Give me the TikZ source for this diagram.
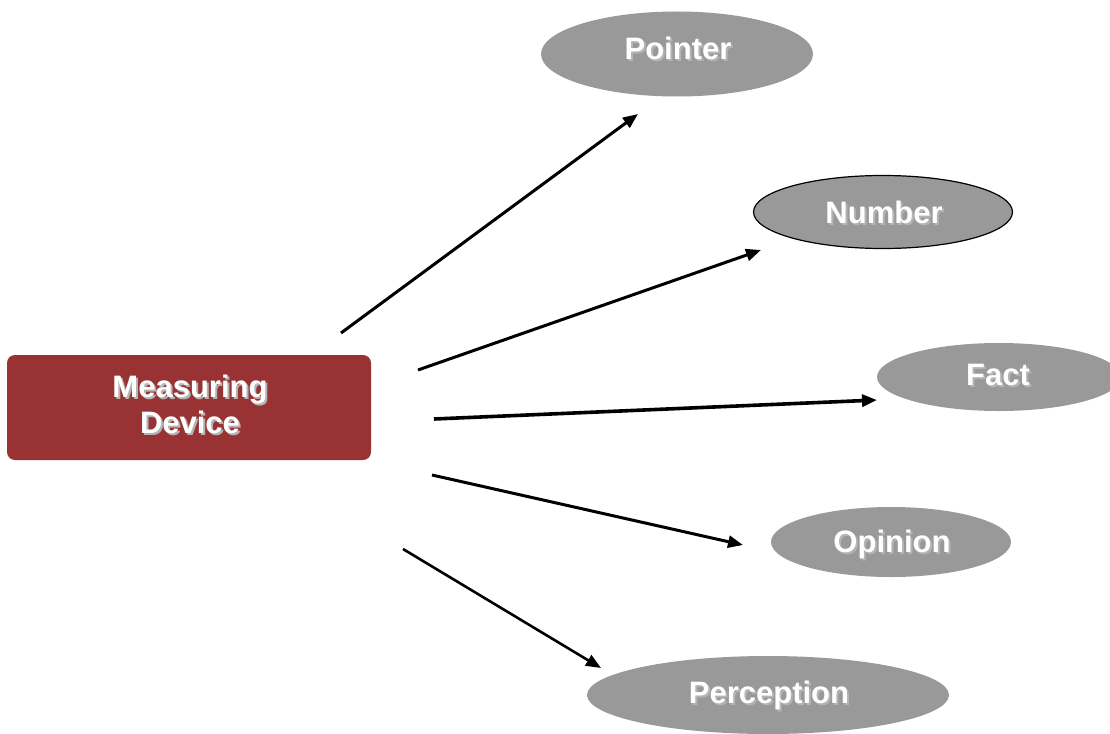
\documentclass[tikz,border=0pt]{standalone}
\usepackage{fontspec}
\setmainfont{Liberation Sans}
\usetikzlibrary{arrows.meta,shapes.geometric}
\definecolor{devicered}{HTML}{993333}
\definecolor{bubblegray}{HTML}{999999}
\definecolor{textshade}{HTML}{B4B4B4}
% white lettering with a small grey drop shadow
\newcommand\dropshadow[1]{\leavevmode\rlap{\hspace{2pt}\raisebox{-2pt}{\color{textshade}#1}}#1}

\begin{document}
\begin{tikzpicture}[x=1pt,y=-1pt,
  bubble/.style={ellipse, fill=bubblegray, inner sep=0pt},
  device/.style={rectangle, rounded corners=8pt, fill=devicered, inner sep=0pt,
                 minimum width=364pt, minimum height=105pt},
  caption/.style={anchor=base, inner sep=0pt, text=white,
                  font=\bfseries\fontsize{31}{36}\selectfont},
  link/.style={-{Triangle[length=15pt,width=12pt]}, line width=3pt}]
\useasboundingbox (0,0) rectangle (1110,733);

% central box
\node[device] (dev) at (189,407.5) {};
\node[caption] (devtop) at (190,397) {\dropshadow{Measuring}};
\node[caption] (devbot) at (190,433) {\dropshadow{Device}};

% outcome bubbles
\node[bubble, minimum width=272pt, minimum height=85pt] (pointer) at (677,54) {};
\node[caption] (pointer-t) at (678,60) {\dropshadow{Pointer}};

\node[bubble, draw=black, line width=1.2pt, minimum width=259pt, minimum height=73pt] (number) at (883,212) {};
\node[caption] (number-t) at (884,223) {\dropshadow{Number}};

\node[bubble, minimum width=244pt, minimum height=68pt] (fact) at (999,377) {};
\node[caption] (fact-t) at (998,385) {\dropshadow{Fact}};

\node[bubble, minimum width=240pt, minimum height=70pt] (opinion) at (891,542) {};
\node[caption] (opinion-t) at (892,552) {\dropshadow{Opinion}};

\node[bubble, minimum width=362pt, minimum height=78pt] (perception) at (768,695) {};
\node[caption] (perception-t) at (769,703) {\dropshadow{Perception}};

% free arrow ends
\coordinate (s1) at (341,333);  \coordinate (e1) at (638,114);
\coordinate (s2) at (418,370);  \coordinate (e2) at (761,250);
\coordinate (s3) at (434,419);  \coordinate (e3) at (877,400);
\coordinate (s4) at (432,475);  \coordinate (e4) at (743,545);
\coordinate (s5) at (403,549);  \coordinate (e5) at (601,668);

\draw[link] (s1) -- (e1);
\draw[link] (s2) -- (e2);
\draw[link, line width=3.6pt] (s3) -- (e3);
\draw[link] (s4) -- (e4);
\draw[link, line width=2.6pt] (s5) -- (e5);
\end{tikzpicture}
\end{document}
